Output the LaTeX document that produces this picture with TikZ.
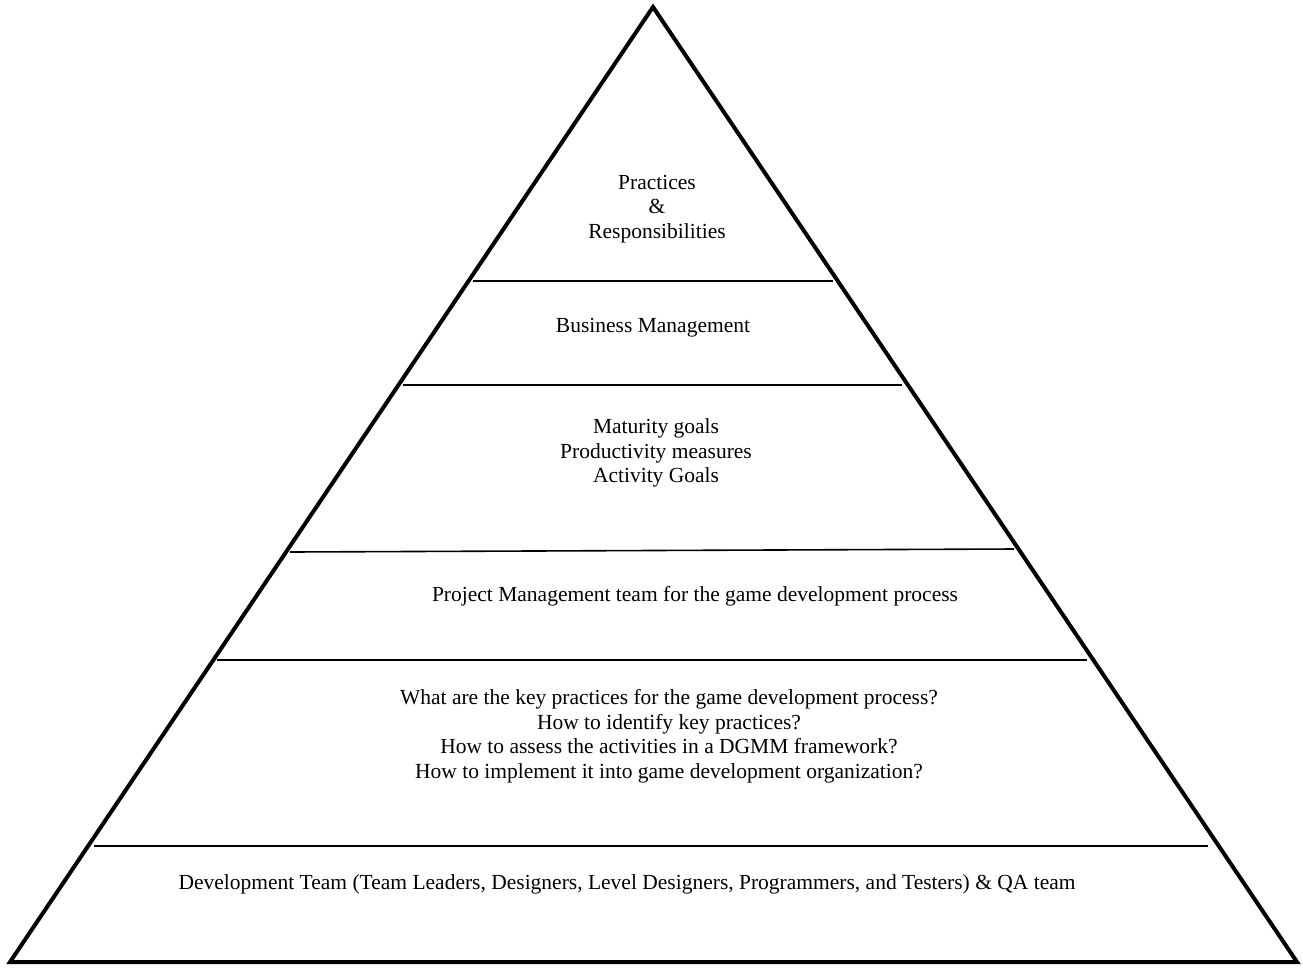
\documentclass[tikz,border=0pt]{standalone}
\usepackage{fontspec}
\setmainfont{Liberation Serif}
\begin{document}
\begin{tikzpicture}[x=1pt,y=-1pt,
  layer/.style={font=\fontsize{21.5}{24.5}\selectfont, align=center, inner sep=0pt},
  outline/.style={line width=4pt, line join=miter},
  divider/.style={line width=1.6pt}]
\useasboundingbox (0,0) rectangle (1303,967);
% pyramid outline
\coordinate (apex) at (653,7);
\coordinate (bl) at (10,962);
\coordinate (br) at (1297,962);
\draw[outline] (apex) -- (br) -- (bl) -- cycle;
% dividers between levels
\coordinate (d1l) at (473,281); \coordinate (d1r) at (833,281);
\coordinate (d2l) at (403,385); \coordinate (d2r) at (902,385);
\coordinate (d3l) at (290,552); \coordinate (d3r) at (1014,549);
\coordinate (d4l) at (217,660); \coordinate (d4r) at (1087,660);
\coordinate (d5l) at (94,846);  \coordinate (d5r) at (1208,846);
\draw[divider] (d1l) -- (d1r);
\draw[divider] (d2l) -- (d2r);
\draw[divider] (d3l) -- (d3r);
\draw[divider] (d4l) -- (d4r);
\draw[divider] (d5l) -- (d5r);
% level labels
\node[layer] (t1) at (657,209) {Practices\\\&\\Responsibilities};
\node[layer] (t2) at (653,328) {Business Management};
\node[layer] (t3) at (656,453) {Maturity goals\\Productivity measures\\Activity Goals};
\node[layer] (t4) at (695,596) {Project Management team for the game development process};
\node[layer] (t5) at (669,736) {What are the key practices for the game development process?\\How to identify key practices?\\How to assess the activities in a DGMM framework?\\How to implement it into game development organization?};
\node[layer] (t6) at (627,884) {Development Team (Team Leaders, Designers, Level Designers, Programmers, and Testers) \& QA team};
\end{tikzpicture}
\end{document}
